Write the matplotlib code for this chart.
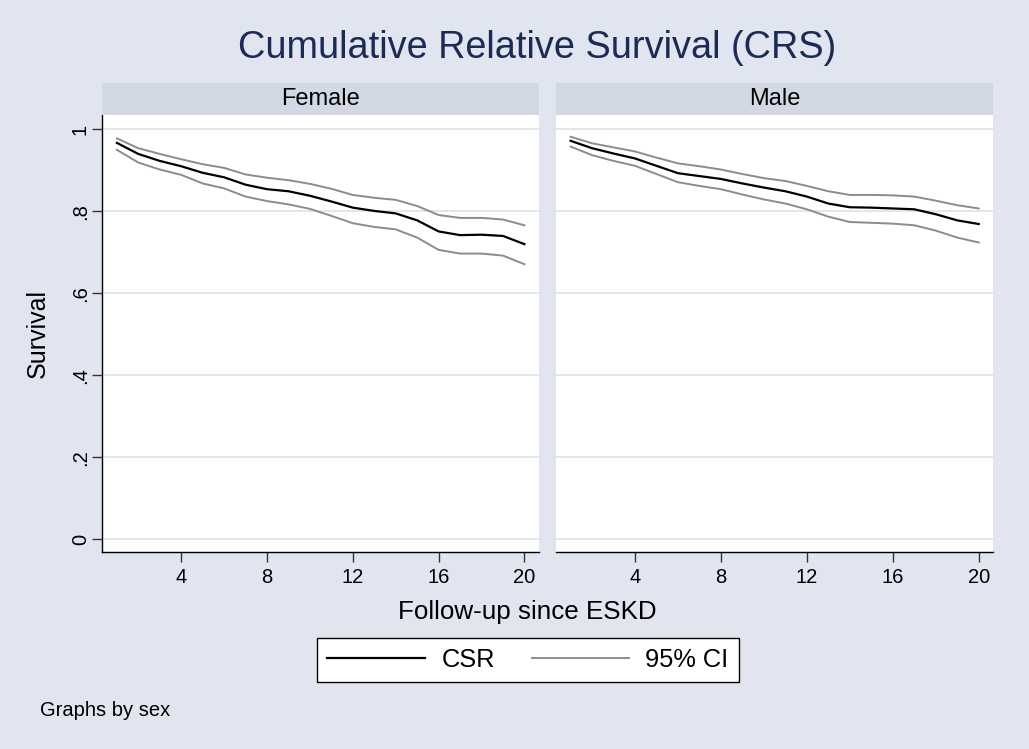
import matplotlib
matplotlib.use("Agg")
import matplotlib.pyplot as plt
from matplotlib.lines import Line2D
import numpy as np

plt.rcParams['font.family'] = ['Liberation Sans', 'DejaVu Sans']

# Follow-up years since ESKD
years = list(range(1, 21))

# Cumulative relative survival and 95% CI, females
female_crs = [0.967, 0.940, 0.923, 0.910, 0.894, 0.883, 0.865, 0.854, 0.849, 0.838,
              0.824, 0.809, 0.801, 0.795, 0.778, 0.751, 0.742, 0.743, 0.740, 0.720]
female_hi = [0.978, 0.954, 0.940, 0.927, 0.915, 0.906, 0.890, 0.882, 0.876, 0.867,
             0.855, 0.840, 0.833, 0.828, 0.813, 0.791, 0.784, 0.784, 0.780, 0.766]
female_lo = [0.950, 0.919, 0.902, 0.889, 0.868, 0.856, 0.836, 0.825, 0.817, 0.806,
             0.789, 0.771, 0.762, 0.756, 0.736, 0.706, 0.697, 0.697, 0.692, 0.671]

# Cumulative relative survival and 95% CI, males
male_crs = [0.972, 0.954, 0.941, 0.929, 0.911, 0.893, 0.886, 0.879, 0.868, 0.858,
            0.849, 0.836, 0.819, 0.810, 0.809, 0.807, 0.805, 0.793, 0.778, 0.769]
male_hi = [0.982, 0.966, 0.956, 0.946, 0.931, 0.917, 0.910, 0.902, 0.891, 0.881,
           0.874, 0.862, 0.849, 0.840, 0.840, 0.839, 0.836, 0.826, 0.815, 0.807]
male_lo = [0.958, 0.937, 0.923, 0.911, 0.891, 0.871, 0.862, 0.854, 0.841, 0.829,
           0.819, 0.805, 0.787, 0.774, 0.772, 0.770, 0.766, 0.753, 0.736, 0.724]

panels = ["Female", "Male"]
xticks = [4, 8, 12, 16, 20]
yticks = [0, 0.2, 0.4, 0.6, 0.8, 1.0]
ytick_labels = ["0", ".2", ".4", ".6", ".8", "1"]

BG = "#e1e5f0"
STRIP = "#d2d8e4"
GRID = "#e1e7f1"
TITLE_C = "#1c2b55"
CI_C = "#8c8c8c"

W, H = 1029, 749
fig = plt.figure(figsize=(W / 100, H / 100), dpi=100, facecolor=BG)


def fx(px):
    return px / W


def fy(px):
    return 1 - px / H


ax_top, ax_bot = 115, 552.3
strip_top = 83
panel_x = [(102.3, 539.0), (556.0, 993.3)]
series = [(female_crs, female_hi, female_lo), (male_crs, male_hi, male_lo)]

for i, (name, (x0, x1), (crs, hi, lo)) in enumerate(zip(panels, panel_x, series)):
    ax = fig.add_axes([fx(x0), fy(ax_bot), fx(x1 - x0), (ax_bot - ax_top) / H])
    ax.set_facecolor("white")
    ax.set_xlim(0.32, 20.68)
    ax.set_ylim(-0.0317, 1.035)
    for yv in yticks:
        ax.axhline(yv, color=GRID, lw=1.4, zorder=0)
    ax.plot(years, hi, color=CI_C, lw=1.4, zorder=2)
    ax.plot(years, lo, color=CI_C, lw=1.4, zorder=2)
    ax.plot(years, crs, color="black", lw=1.6, zorder=3)

    for s in ["top", "right"]:
        ax.spines[s].set_visible(False)
    ax.spines["bottom"].set_color("black")
    ax.spines["bottom"].set_linewidth(1.0)
    ax.set_xticks(xticks)
    ax.set_xticklabels([str(t) for t in xticks])
    ax.tick_params(axis="x", length=7, width=1, color="#333333", labelsize=14.5, pad=4)
    if i == 0:
        ax.spines["left"].set_color("black")
        ax.spines["left"].set_linewidth(1.0)
        ax.set_yticks(yticks)
        ax.set_yticklabels(ytick_labels, rotation=90, va="center")
        ax.tick_params(axis="y", length=7, width=1, color="#333333", labelsize=14.5, pad=2)
    else:
        ax.spines["left"].set_visible(False)
        ax.set_yticks([])

    # panel strip
    sax = fig.add_axes([fx(x0), fy(ax_top), fx(x1 - x0), (ax_top - strip_top) / H])
    sax.set_facecolor(STRIP)
    sax.set_xticks([])
    sax.set_yticks([])
    for s in sax.spines.values():
        s.set_visible(False)
    sax.text(0.5, 0.5, name, ha="center", va="center", fontsize=17,
             transform=sax.transAxes, color="black")

fig.text(fx(537), fy(48), "Cumulative Relative Survival (CRS)", ha="center", va="center",
         fontsize=27.3, color=TITLE_C)
fig.text(fx(38), fy(333), "Survival", rotation=90, ha="center", va="center", fontsize=18)
fig.text(fx(527), fy(612), "Follow-up since ESKD", ha="center", va="center", fontsize=18.7)
fig.text(fx(40), fy(710), "Graphs by sex", ha="left", va="center", fontsize=14.5)

handles = [Line2D([], [], color="black", lw=1.6), Line2D([], [], color=CI_C, lw=1.4)]
leg = fig.legend(handles, ["CSR", "95% CI"], loc="center", ncol=2,
                 bbox_to_anchor=(fx(528), fy(660)), fontsize=18.3, frameon=True,
                 fancybox=False, edgecolor="black", facecolor="white", framealpha=1,
                 handlelength=3.85, handletextpad=0.63, columnspacing=1.45,
                 borderpad=0.4, borderaxespad=0)
leg.get_frame().set_linewidth(1.0)

fig.savefig("out.png", dpi=100, facecolor=BG)
